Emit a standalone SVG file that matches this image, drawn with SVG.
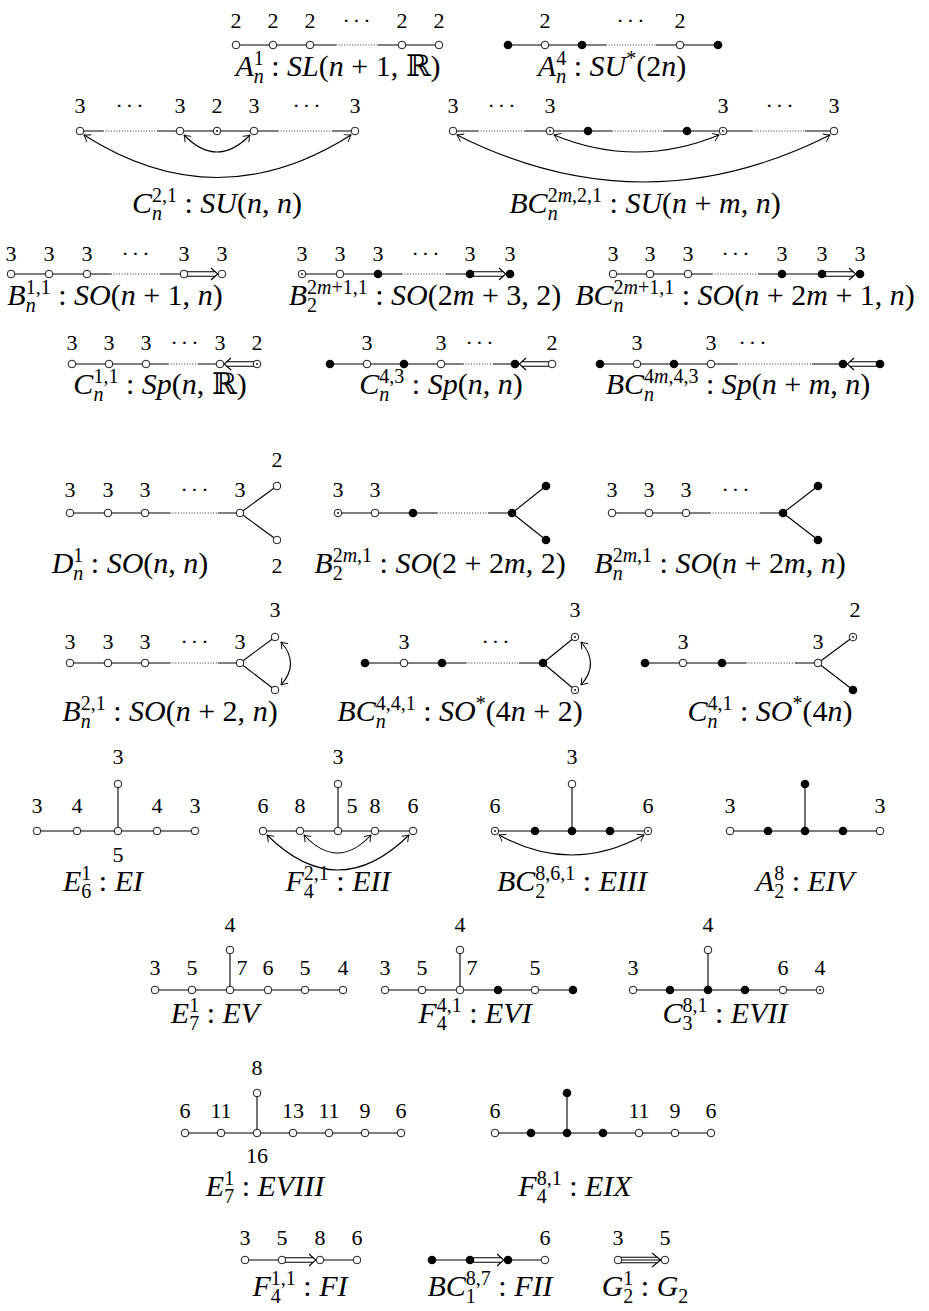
<svg xmlns="http://www.w3.org/2000/svg" width="929" height="1311" viewBox="0 0 929 1311">
<style>
.e{stroke:#000;stroke-width:1.1;fill:none}
.d{stroke:#000;stroke-width:0.9;stroke-dasharray:0.9 1.8;fill:none}
.a{stroke:#000;stroke-width:1.1;fill:none;marker-start:url(#ah);marker-end:url(#ah)}
.n{font-family:"Liberation Serif","DejaVu Serif",serif;font-size:22px;text-anchor:middle}
.lb{font-family:"Liberation Serif","DejaVu Serif",serif;font-size:30px;text-anchor:middle}
.i{font-style:italic}
.s{font-size:20px}
.dots{letter-spacing:3px}
</style>
<defs>
<circle id="o" r="3.8" fill="#fff" stroke="#000" stroke-width="0.9"/>
<circle id="f" r="4.3" fill="#000"/>
<g id="t"><circle r="3.8" fill="#fff" stroke="#000" stroke-width="0.9"/><circle r="0.9" fill="#000"/></g>
<marker id="ah" viewBox="-7 -5 8 10" refX="0" refY="0" markerWidth="8" markerHeight="10" markerUnits="userSpaceOnUse" orient="auto-start-reverse"><path d="M-6,-4.2Q-2,-1 0,0Q-2,1 -6,4.2" fill="none" stroke="#000" stroke-width="0.9"/></marker>
</defs>
<rect width="929" height="1311" fill="#fff"/>
<g id="connectors">
<path class="e" d="M236,45H336M378,45H439"/><path class="d" d="M336,45H378"/>
<path class="e" d="M508,45H606M656,45H718"/><path class="d" d="M606,45H656"/>
<path class="e" d="M80,131H103M157,131H278M332,131H355"/><path class="d" d="M103,131H157M278,131H332"/>
<path class="a" d="M184,135Q217,169 250,135"/><path class="a" d="M84,135Q217,220 351,135"/>
<path class="e" d="M453,131H478M525,131H612M663,131H752M805,131H834"/><path class="d" d="M478,131H525M612,131H663M752,131H805"/>
<path class="a" d="M554,135Q636.5,169 719,135"/><path class="a" d="M457,135Q643.5,229 830,135"/>
<path class="e" d="M11,274H111M160,274H184"/><path class="d" d="M111,274H160"/>
<path class="e" d="M184,271.8H216M184,276.2H216M211,268L217.7,274L211,280"/>
<path class="e" d="M302,274H402M446,274H470"/><path class="d" d="M402,274H446"/>
<path class="e" d="M470,271.8H504M470,276.2H504M499,268L505.7,274L499,280"/>
<path class="e" d="M613,274H712M758,274H822"/><path class="d" d="M712,274H758"/>
<path class="e" d="M822,271.8H854M822,276.2H854M849,268L855.7,274L849,280"/>
<path class="e" d="M72,364H168M198,364H220"/><path class="d" d="M168,364H198"/>
<path class="e" d="M226,361.8H257M226,366.2H257M231,358L224.3,364L231,370"/>
<path class="e" d="M330,364H463M493,364H515"/><path class="d" d="M463,364H493"/>
<path class="e" d="M521,361.8H552M521,366.2H552M526,358L519.3,364L526,370"/>
<path class="e" d="M600,364H737M812,364H843"/><path class="d" d="M737,364H812"/>
<path class="e" d="M849,361.8H880M849,366.2H880M854,358L847.3,364L854,370"/>
<path class="e" d="M70,513H170M218,513H240M240,513L277,486M240,513L277,540"/><path class="d" d="M170,513H218"/>
<path class="e" d="M338,513H437M488,513H512M512,513L546,486M512,513L546,540"/><path class="d" d="M437,513H488"/>
<path class="e" d="M612,513H710M760,513H783M783,513L818,486M783,513L818,540"/><path class="d" d="M710,513H760"/>
<path class="e" d="M70,663H170M218,663H240M240,663L275,637M240,663L275,690"/><path class="d" d="M170,663H218"/>
<path class="a" d="M281,642Q300,663.5 281,685"/>
<path class="e" d="M365,663H466M519,663H543M543,663L575,637M543,663L575,690"/><path class="d" d="M466,663H519"/>
<path class="a" d="M581,642Q600,663.5 581,685"/>
<path class="e" d="M645,663H746M795,663H818M818,663L853,637M818,663L853,690"/><path class="d" d="M746,663H795"/>
<path class="e" d="M37,831H195M118,831V784"/>
<path class="e" d="M263,831H413M338,831V784"/>
<path class="a" d="M304,835Q337.5,871 371,835"/><path class="a" d="M267,835Q338,905 409,835"/>
<path class="e" d="M495,831H648M572,831V784"/>
<path class="a" d="M499,835Q571.5,875 644,835"/>
<path class="e" d="M730,831H880M805,831V784"/>
<path class="e" d="M155,990H343M230,990V950"/>
<path class="e" d="M385,990H573M460,990V950"/>
<path class="e" d="M633,990H820M708,990V950"/>
<path class="e" d="M185,1133H401M257,1133V1093"/>
<path class="e" d="M495,1133H711M567,1133V1093"/>
<path class="e" d="M245,1260H282M320,1260H357M282,1257.8H314M282,1262.2H314M309,1254L315.7,1260L309,1266"/>
<path class="e" d="M432,1260H470M508,1260H545M470,1257.8H502M470,1262.2H502M497,1254L503.7,1260L497,1266"/>
<path class="e" d="M618,1257.3H658M618,1260H660M618,1262.7H658M652,1253L660.7,1260L652,1267"/>
</g>

<g id="A1">
<use href="#o" x="236" y="45"/><use href="#o" x="273" y="45"/><use href="#o" x="310" y="45"/><use href="#o" x="402" y="45"/><use href="#o" x="439" y="45"/>
<text class="n" y="28"><tspan x="236">2</tspan><tspan x="273">2</tspan><tspan x="310">2</tspan><tspan x="402">2</tspan><tspan x="439">2</tspan></text>
<text class="n dots" x="358" y="28">···</text>
<text class="lb" x="338" y="76"><tspan class="i">A</tspan><tspan class="s i" dy="7">n</tspan><tspan class="s" dx="-10" dy="-18">1</tspan><tspan dy="11"> : </tspan><tspan class="i">SL</tspan>(<tspan class="i">n</tspan> + 1, ℝ)</text>
</g>
<g id="A4">
<use href="#f" x="508" y="45"/><use href="#o" x="545" y="45"/><use href="#f" x="582" y="45"/><use href="#o" x="680" y="45"/><use href="#f" x="718" y="45"/>
<text class="n" y="28"><tspan x="545">2</tspan><tspan x="680">2</tspan></text>
<text class="n dots" x="632" y="28">···</text>
<text class="lb" x="612" y="76"><tspan class="i">A</tspan><tspan class="s i" dy="7">n</tspan><tspan class="s" dx="-10" dy="-18">4</tspan><tspan dy="11"> : </tspan><tspan class="i">SU</tspan><tspan class="s" dy="-11">*</tspan><tspan dy="11">(2</tspan><tspan class="i">n</tspan>)</text>
</g>

<g id="C21">
<use href="#o" x="80" y="131"/><use href="#o" x="180" y="131"/><use href="#t" x="217" y="131"/><use href="#o" x="254" y="131"/><use href="#o" x="355" y="131"/>
<text class="n" y="113"><tspan x="80">3</tspan><tspan x="180">3</tspan><tspan x="217">2</tspan><tspan x="254">3</tspan><tspan x="355">3</tspan></text>
<text class="n dots" y="113"><tspan x="131">···</tspan><tspan x="308">···</tspan></text>
<text class="lb" x="217" y="213"><tspan class="i">C</tspan><tspan class="s i" dy="7">n</tspan><tspan class="s" dx="-10" dy="-18">2,1</tspan><tspan dy="11"> : </tspan><tspan class="i">SU</tspan>(<tspan class="i">n</tspan>, <tspan class="i">n</tspan>)</text>
</g>
<g id="BC2m21">
<use href="#o" x="453" y="131"/><use href="#t" x="550" y="131"/><use href="#f" x="588" y="131"/><use href="#f" x="687" y="131"/><use href="#t" x="723" y="131"/><use href="#o" x="834" y="131"/>
<text class="n" y="113"><tspan x="453">3</tspan><tspan x="550">3</tspan><tspan x="723">3</tspan><tspan x="834">3</tspan></text>
<text class="n dots" y="113"><tspan x="503">···</tspan><tspan x="781">···</tspan></text>
<text class="lb" x="645" y="213"><tspan class="i">BC</tspan><tspan class="s i" dy="7">n</tspan><tspan class="s" dx="-10" dy="-18">2<tspan class="i">m</tspan>,2,1</tspan><tspan dy="11"> : </tspan><tspan class="i">SU</tspan>(<tspan class="i">n</tspan> + <tspan class="i">m</tspan>, <tspan class="i">n</tspan>)</text>
</g>

<g id="B11">
<use href="#o" x="11" y="274"/><use href="#o" x="49" y="274"/><use href="#o" x="87" y="274"/><use href="#o" x="184" y="274"/><use href="#o" x="222" y="274"/>
<text class="n" y="261"><tspan x="11">3</tspan><tspan x="49">3</tspan><tspan x="87">3</tspan><tspan x="184">3</tspan><tspan x="222">3</tspan></text>
<text class="n dots" x="137" y="261">···</text>
<text class="lb" x="115" y="305"><tspan class="i">B</tspan><tspan class="s i" dy="7">n</tspan><tspan class="s" dx="-10" dy="-18">1,1</tspan><tspan dy="11"> : </tspan><tspan class="i">SO</tspan>(<tspan class="i">n</tspan> + 1, <tspan class="i">n</tspan>)</text>
</g>
<g id="B22m11">
<use href="#t" x="302" y="274"/><use href="#o" x="340" y="274"/><use href="#f" x="378" y="274"/><use href="#f" x="470" y="274"/><use href="#f" x="510" y="274"/>
<text class="n" y="261"><tspan x="302">3</tspan><tspan x="340">3</tspan><tspan x="378">3</tspan><tspan x="470">3</tspan><tspan x="510">3</tspan></text>
<text class="n dots" x="427" y="261">···</text>
<text class="lb" x="425" y="305"><tspan class="i">B</tspan><tspan class="s" dy="7">2</tspan><tspan class="s" dx="-10" dy="-18">2<tspan class="i">m</tspan>+1,1</tspan><tspan dy="11"> : </tspan><tspan class="i">SO</tspan>(2<tspan class="i">m</tspan> + 3, 2)</text>
</g>
<g id="BCn2m11">
<use href="#o" x="613" y="274"/><use href="#o" x="650" y="274"/><use href="#o" x="688" y="274"/><use href="#f" x="782" y="274"/><use href="#f" x="822" y="274"/><use href="#f" x="860" y="274"/>
<text class="n" y="261"><tspan x="613">3</tspan><tspan x="650">3</tspan><tspan x="688">3</tspan><tspan x="782">3</tspan><tspan x="822">3</tspan><tspan x="860">3</tspan></text>
<text class="n dots" x="737" y="261">···</text>
<text class="lb" x="745" y="305"><tspan class="i">BC</tspan><tspan class="s i" dy="7">n</tspan><tspan class="s" dx="-10" dy="-18">2<tspan class="i">m</tspan>+1,1</tspan><tspan dy="11"> : </tspan><tspan class="i">SO</tspan>(<tspan class="i">n</tspan> + 2<tspan class="i">m</tspan> + 1, <tspan class="i">n</tspan>)</text>
</g>

<g id="C11">
<use href="#o" x="72" y="364"/><use href="#o" x="109" y="364"/><use href="#o" x="146" y="364"/><use href="#o" x="220" y="364"/><use href="#t" x="257" y="364"/>
<text class="n" y="350"><tspan x="72">3</tspan><tspan x="109">3</tspan><tspan x="146">3</tspan><tspan x="220">3</tspan><tspan x="257">2</tspan></text>
<text class="n dots" x="186" y="350">···</text>
<text class="lb" x="160" y="394"><tspan class="i">C</tspan><tspan class="s i" dy="7">n</tspan><tspan class="s" dx="-10" dy="-18">1,1</tspan><tspan dy="11"> : </tspan><tspan class="i">Sp</tspan>(<tspan class="i">n</tspan>, ℝ)</text>
</g>
<g id="C43">
<use href="#f" x="330" y="364"/><use href="#o" x="367" y="364"/><use href="#f" x="404" y="364"/><use href="#o" x="441" y="364"/><use href="#f" x="515" y="364"/><use href="#o" x="552" y="364"/>
<text class="n" y="350"><tspan x="367">3</tspan><tspan x="441">3</tspan><tspan x="552">2</tspan></text>
<text class="n dots" x="481" y="350">···</text>
<text class="lb" x="441" y="394"><tspan class="i">C</tspan><tspan class="s i" dy="7">n</tspan><tspan class="s" dx="-10" dy="-18">4,3</tspan><tspan dy="11"> : </tspan><tspan class="i">Sp</tspan>(<tspan class="i">n</tspan>, <tspan class="i">n</tspan>)</text>
</g>
<g id="BC4m43">
<use href="#f" x="600" y="364"/><use href="#o" x="637" y="364"/><use href="#f" x="674" y="364"/><use href="#o" x="711" y="364"/><use href="#f" x="843" y="364"/><use href="#f" x="880" y="364"/>
<text class="n" y="350"><tspan x="637">3</tspan><tspan x="711">3</tspan></text>
<text class="n dots" x="754" y="350">···</text>
<text class="lb" x="738" y="394"><tspan class="i">BC</tspan><tspan class="s i" dy="7">n</tspan><tspan class="s" dx="-10" dy="-18">4<tspan class="i">m</tspan>,4,3</tspan><tspan dy="11"> : </tspan><tspan class="i">Sp</tspan>(<tspan class="i">n</tspan> + <tspan class="i">m</tspan>, <tspan class="i">n</tspan>)</text>
</g>

<g id="D1">
<use href="#o" x="70" y="513"/><use href="#o" x="108" y="513"/><use href="#o" x="145" y="513"/><use href="#o" x="240" y="513"/><use href="#o" x="277" y="486"/><use href="#o" x="277" y="540"/>
<text class="n" y="497"><tspan x="70">3</tspan><tspan x="108">3</tspan><tspan x="145">3</tspan><tspan x="240">3</tspan></text>
<text class="n dots" x="196" y="497">···</text>
<text class="n" x="277" y="467">2</text>
<text class="n" x="277" y="573">2</text>
<text class="lb" x="130" y="573"><tspan class="i">D</tspan><tspan class="s i" dy="7">n</tspan><tspan class="s" dx="-10" dy="-18">1</tspan><tspan dy="11"> : </tspan><tspan class="i">SO</tspan>(<tspan class="i">n</tspan>, <tspan class="i">n</tspan>)</text>
</g>
<g id="B22m1">
<use href="#t" x="338" y="513"/><use href="#o" x="375" y="513"/><use href="#f" x="413" y="513"/><use href="#f" x="512" y="513"/><use href="#f" x="546" y="486"/><use href="#f" x="546" y="540"/>
<text class="n" y="497"><tspan x="338">3</tspan><tspan x="375">3</tspan></text>
<text class="lb" x="440" y="573"><tspan class="i">B</tspan><tspan class="s" dy="7">2</tspan><tspan class="s" dx="-10" dy="-18">2<tspan class="i">m</tspan>,1</tspan><tspan dy="11"> : </tspan><tspan class="i">SO</tspan>(2 + 2<tspan class="i">m</tspan>, 2)</text>
</g>
<g id="Bn2m1">
<use href="#o" x="612" y="513"/><use href="#o" x="649" y="513"/><use href="#o" x="686" y="513"/><use href="#f" x="783" y="513"/><use href="#f" x="818" y="486"/><use href="#f" x="818" y="540"/>
<text class="n" y="497"><tspan x="612">3</tspan><tspan x="649">3</tspan><tspan x="686">3</tspan></text>
<text class="n dots" x="737" y="497">···</text>
<text class="lb" x="720" y="573"><tspan class="i">B</tspan><tspan class="s i" dy="7">n</tspan><tspan class="s" dx="-10" dy="-18">2<tspan class="i">m</tspan>,1</tspan><tspan dy="11"> : </tspan><tspan class="i">SO</tspan>(<tspan class="i">n</tspan> + 2<tspan class="i">m</tspan>, <tspan class="i">n</tspan>)</text>
</g>

<g id="Bn21">
<use href="#o" x="70" y="663"/><use href="#o" x="108" y="663"/><use href="#o" x="145" y="663"/><use href="#o" x="240" y="663"/><use href="#o" x="275" y="637"/><use href="#o" x="275" y="690"/>
<text class="n" y="649"><tspan x="70">3</tspan><tspan x="108">3</tspan><tspan x="145">3</tspan><tspan x="240">3</tspan></text>
<text class="n dots" x="196" y="649">···</text>
<text class="n" x="275" y="617">3</text>
<text class="lb" x="170" y="721"><tspan class="i">B</tspan><tspan class="s i" dy="7">n</tspan><tspan class="s" dx="-10" dy="-18">2,1</tspan><tspan dy="11"> : </tspan><tspan class="i">SO</tspan>(<tspan class="i">n</tspan> + 2, <tspan class="i">n</tspan>)</text>
</g>
<g id="BC441">
<use href="#f" x="365" y="663"/><use href="#o" x="404" y="663"/><use href="#f" x="442" y="663"/><use href="#f" x="543" y="663"/><use href="#t" x="575" y="637"/><use href="#t" x="575" y="690"/>
<text class="n" x="404" y="649">3</text>
<text class="n dots" x="497" y="649">···</text>
<text class="n" x="575" y="617">3</text>
<text class="lb" x="460" y="721"><tspan class="i">BC</tspan><tspan class="s i" dy="7">n</tspan><tspan class="s" dx="-10" dy="-18">4,4,1</tspan><tspan dy="11"> : </tspan><tspan class="i">SO</tspan><tspan class="s" dy="-11">*</tspan><tspan dy="11">(4</tspan><tspan class="i">n</tspan> + 2)</text>
</g>
<g id="C41">
<use href="#f" x="645" y="663"/><use href="#o" x="683" y="663"/><use href="#f" x="722" y="663"/><use href="#o" x="818" y="663"/><use href="#t" x="853" y="637"/><use href="#f" x="853" y="690"/>
<text class="n" y="649"><tspan x="683">3</tspan><tspan x="818">3</tspan></text>
<text class="n" x="855" y="617">2</text>
<text class="lb" x="770" y="721"><tspan class="i">C</tspan><tspan class="s i" dy="7">n</tspan><tspan class="s" dx="-10" dy="-18">4,1</tspan><tspan dy="11"> : </tspan><tspan class="i">SO</tspan><tspan class="s" dy="-11">*</tspan><tspan dy="11">(4</tspan><tspan class="i">n</tspan>)</text>
</g>

<g id="E61">
<use href="#o" x="37" y="831"/><use href="#o" x="77" y="831"/><use href="#o" x="118" y="831"/><use href="#o" x="157" y="831"/><use href="#o" x="195" y="831"/><use href="#o" x="118" y="784"/>
<text class="n" y="813"><tspan x="37">3</tspan><tspan x="77">4</tspan><tspan x="157">4</tspan><tspan x="195">3</tspan></text>
<text class="n" x="118" y="764">3</text>
<text class="n" x="118" y="862">5</text>
<text class="lb" x="103" y="891"><tspan class="i">E</tspan><tspan class="s" dy="7">6</tspan><tspan class="s" dx="-10" dy="-18">1</tspan><tspan dy="11"> : </tspan><tspan class="i">EI</tspan></text>
</g>
<g id="F421">
<use href="#o" x="263" y="831"/><use href="#o" x="300" y="831"/><use href="#o" x="338" y="831"/><use href="#o" x="375" y="831"/><use href="#o" x="413" y="831"/><use href="#o" x="338" y="784"/>
<text class="n" y="813"><tspan x="263">6</tspan><tspan x="300">8</tspan><tspan x="352">5</tspan><tspan x="375">8</tspan><tspan x="413">6</tspan></text>
<text class="n" x="338" y="764">3</text>
<text class="lb" x="338" y="891"><tspan class="i">F</tspan><tspan class="s" dy="7">4</tspan><tspan class="s" dx="-10" dy="-18">2,1</tspan><tspan dy="11"> : </tspan><tspan class="i">EII</tspan></text>
</g>
<g id="BC2861">
<use href="#t" x="495" y="831"/><use href="#f" x="535" y="831"/><use href="#f" x="572" y="831"/><use href="#f" x="610" y="831"/><use href="#t" x="648" y="831"/><use href="#o" x="572" y="784"/>
<text class="n" y="813"><tspan x="495">6</tspan><tspan x="648">6</tspan></text>
<text class="n" x="572" y="764">3</text>
<text class="lb" x="572" y="891"><tspan class="i">BC</tspan><tspan class="s" dy="7">2</tspan><tspan class="s" dx="-10" dy="-18">8,6,1</tspan><tspan dy="11"> : </tspan><tspan class="i">EIII</tspan></text>
</g>
<g id="A28">
<use href="#o" x="730" y="831"/><use href="#f" x="768" y="831"/><use href="#f" x="805" y="831"/><use href="#f" x="843" y="831"/><use href="#o" x="880" y="831"/><use href="#f" x="805" y="784"/>
<text class="n" y="813"><tspan x="730">3</tspan><tspan x="880">3</tspan></text>
<text class="lb" x="805" y="891"><tspan class="i">A</tspan><tspan class="s" dy="7">2</tspan><tspan class="s" dx="-10" dy="-18">8</tspan><tspan dy="11"> : </tspan><tspan class="i">EIV</tspan></text>
</g>

<g id="E71">
<use href="#o" x="155" y="990"/><use href="#o" x="192" y="990"/><use href="#o" x="230" y="990"/><use href="#o" x="268" y="990"/><use href="#o" x="305" y="990"/><use href="#o" x="343" y="990"/><use href="#o" x="230" y="950"/>
<text class="n" y="975"><tspan x="155">3</tspan><tspan x="192">5</tspan><tspan x="242">7</tspan><tspan x="268">6</tspan><tspan x="305">5</tspan><tspan x="343">4</tspan></text>
<text class="n" x="230" y="932">4</text>
<text class="lb" x="215" y="1023"><tspan class="i">E</tspan><tspan class="s" dy="7">7</tspan><tspan class="s" dx="-10" dy="-18">1</tspan><tspan dy="11"> : </tspan><tspan class="i">EV</tspan></text>
</g>
<g id="F441">
<use href="#o" x="385" y="990"/><use href="#o" x="422" y="990"/><use href="#o" x="460" y="990"/><use href="#f" x="498" y="990"/><use href="#o" x="535" y="990"/><use href="#f" x="573" y="990"/><use href="#o" x="460" y="950"/>
<text class="n" y="975"><tspan x="385">3</tspan><tspan x="422">5</tspan><tspan x="472">7</tspan><tspan x="535">5</tspan></text>
<text class="n" x="460" y="932">4</text>
<text class="lb" x="475" y="1023"><tspan class="i">F</tspan><tspan class="s" dy="7">4</tspan><tspan class="s" dx="-10" dy="-18">4,1</tspan><tspan dy="11"> : </tspan><tspan class="i">EVI</tspan></text>
</g>
<g id="C381">
<use href="#o" x="633" y="990"/><use href="#f" x="670" y="990"/><use href="#f" x="708" y="990"/><use href="#f" x="745" y="990"/><use href="#o" x="783" y="990"/><use href="#t" x="820" y="990"/><use href="#o" x="708" y="950"/>
<text class="n" y="975"><tspan x="633">3</tspan><tspan x="783">6</tspan><tspan x="820">4</tspan></text>
<text class="n" x="708" y="932">4</text>
<text class="lb" x="725" y="1023"><tspan class="i">C</tspan><tspan class="s" dy="7">3</tspan><tspan class="s" dx="-10" dy="-18">8,1</tspan><tspan dy="11"> : </tspan><tspan class="i">EVII</tspan></text>
</g>

<g id="E8">
<use href="#o" x="185" y="1133"/><use href="#o" x="221" y="1133"/><use href="#o" x="257" y="1133"/><use href="#o" x="293" y="1133"/><use href="#o" x="329" y="1133"/><use href="#o" x="365" y="1133"/><use href="#o" x="401" y="1133"/><use href="#o" x="257" y="1093"/>
<text class="n" y="1118"><tspan x="185">6</tspan><tspan x="221">11</tspan><tspan x="293">13</tspan><tspan x="329">11</tspan><tspan x="365">9</tspan><tspan x="401">6</tspan></text>
<text class="n" x="257" y="1075">8</text>
<text class="n" x="257" y="1163">16</text>
<text class="lb" x="265" y="1196"><tspan class="i">E</tspan><tspan class="s" dy="7">7</tspan><tspan class="s" dx="-10" dy="-18">1</tspan><tspan dy="11"> : </tspan><tspan class="i">EVIII</tspan></text>
</g>
<g id="F481">
<use href="#o" x="495" y="1133"/><use href="#f" x="531" y="1133"/><use href="#f" x="567" y="1133"/><use href="#f" x="603" y="1133"/><use href="#o" x="639" y="1133"/><use href="#o" x="675" y="1133"/><use href="#o" x="711" y="1133"/><use href="#f" x="567" y="1093"/>
<text class="n" y="1118"><tspan x="495">6</tspan><tspan x="639">11</tspan><tspan x="675">9</tspan><tspan x="711">6</tspan></text>
<text class="lb" x="575" y="1196"><tspan class="i">F</tspan><tspan class="s" dy="7">4</tspan><tspan class="s" dx="-10" dy="-18">8,1</tspan><tspan dy="11"> : </tspan><tspan class="i">EIX</tspan></text>
</g>

<g id="F411">
<use href="#o" x="245" y="1260"/><use href="#o" x="282" y="1260"/><use href="#o" x="320" y="1260"/><use href="#o" x="357" y="1260"/>
<text class="n" y="1245"><tspan x="245">3</tspan><tspan x="282">5</tspan><tspan x="320">8</tspan><tspan x="357">6</tspan></text>
<text class="lb" x="300" y="1296"><tspan class="i">F</tspan><tspan class="s" dy="7">4</tspan><tspan class="s" dx="-10" dy="-18">1,1</tspan><tspan dy="11"> : </tspan><tspan class="i">FI</tspan></text>
</g>
<g id="BC187">
<use href="#f" x="432" y="1260"/><use href="#f" x="470" y="1260"/><use href="#f" x="508" y="1260"/><use href="#o" x="545" y="1260"/>
<text class="n" x="545" y="1245">6</text>
<text class="lb" x="490" y="1296"><tspan class="i">BC</tspan><tspan class="s" dy="7">1</tspan><tspan class="s" dx="-10" dy="-18">8,7</tspan><tspan dy="11"> : </tspan><tspan class="i">FII</tspan></text>
</g>
<g id="G21">
<use href="#o" x="618" y="1260"/><use href="#o" x="665" y="1260"/>
<text class="n" y="1245"><tspan x="618">3</tspan><tspan x="665">5</tspan></text>
<text class="lb" x="645" y="1296"><tspan class="i">G</tspan><tspan class="s" dy="7">2</tspan><tspan class="s" dx="-10" dy="-18">1</tspan><tspan dy="11"> : </tspan><tspan class="i">G</tspan><tspan class="s" dy="7">2</tspan></text>
</g>
</svg>
